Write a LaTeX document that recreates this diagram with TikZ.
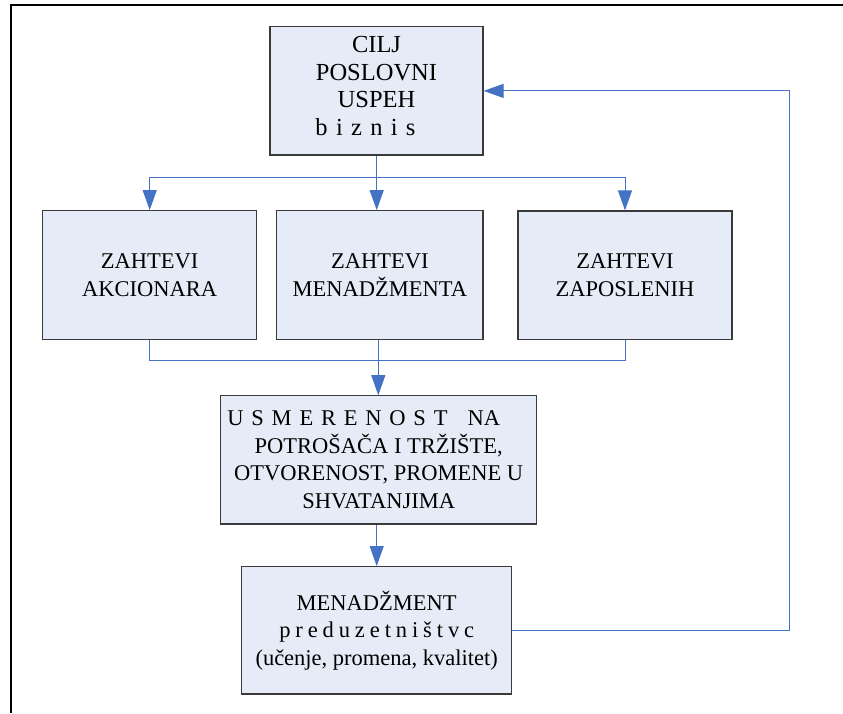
\documentclass[tikz,border=0pt]{standalone}
\usepackage{fontspec}
\setmainfont{Liberation Serif}
\usetikzlibrary{arrows.meta}
\definecolor{lineblue}{HTML}{4472C4}
\definecolor{boxfill}{HTML}{E6ECF7}
\definecolor{boxdraw}{HTML}{3A3A3A}
\newcommand\gapA{\hspace{8.3pt}}
\newcommand\gapB{\hspace{7.8pt}}
\newcommand\gapC{\hspace{4.9pt}}
\begin{document}
\begin{tikzpicture}[x=1pt,y=-1pt,
  box/.style={draw=boxdraw, line width=1.2pt, fill=boxfill, align=center, inner sep=0pt,
    font=\fontsize{22.5}{27.5}\selectfont},
  bigbox/.style={box, font=\fontsize{24.5}{27.5}\selectfont},
  conn/.style={draw=lineblue, line width=1pt},
  arr/.style={conn, -{Triangle[length=20pt,width=14pt]}}]
\useasboundingbox (0,0) rectangle (843,713);
\fill[white] (0,0) rectangle (843,713);
\draw[line width=2pt] (10.5,713) -- (10.5,5) -- (843,5);

\node[bigbox, minimum width=213pt, minimum height=128.3pt] (cilj) at (376.5,90.9)
  {CILJ\\POSLOVNI\\USPEH\\b\gapA i\gapA z\gapA n\gapA i\gapA s\hspace*{22pt}\rule[-10pt]{0pt}{10pt}};
\node[box, minimum width=214pt, minimum height=128.6pt] (akc) at (149.7,275)
  {ZAHTEVI\\AKCIONARA};
\node[box, minimum width=206.3pt, minimum height=128.6pt] (men) at (379.9,275)
  {ZAHTEVI\\MENADŽMENTA};
\node[box, minimum width=214pt, minimum height=128.6pt] (zap) at (625,275.3)
  {ZAHTEVI\\ZAPOSLENIH};
\node[box, minimum width=316pt, minimum height=128.3pt] (usm) at (378.7,459.9)
  {U\gapB S\gapB M\gapB E\gapB R\gapB E\gapB N\gapB O\gapB S\gapB T\hspace{20pt}NA\hspace*{30pt}\\
   POTROŠAČA I TRŽIŠTE,\\OTVORENOST, PROMENE U\\SHVATANJIMA};
\node[box, minimum width=270pt, minimum height=127.3pt] (mpre) at (376.7,630.3)
  {MENADŽMENT\\p\gapC r\gapC e\gapC d\gapC u\gapC z\gapC e\gapC t\gapC n\gapC i\gapC š\gapC t\gapC v\gapC c\hspace*{7pt}\\(učenje, promena, kvalitet)};

\coordinate (split) at (376.7,177.5);
\coordinate (merge) at (378.3,360);
\coordinate (fb) at (789,630.3);

\draw[conn] (split |- cilj.south) -- (split);
\draw[arr] (split) -| (akc.north);
\draw[arr] (split) -- (split |- men.north);
\draw[arr] (split) -| (zap.north);

\draw[conn] (akc.south) |- (merge);
\draw[conn] (zap.south) |- (merge);
\draw[conn] (merge |- men.south) -- (merge);
\draw[arr] (merge) -- (merge |- usm.north);

\draw[arr] (mpre.north |- usm.south) -- (mpre.north);

\draw[arr] (mpre.east |- fb) -- (fb) |- (cilj.east);
\end{tikzpicture}
\end{document}
